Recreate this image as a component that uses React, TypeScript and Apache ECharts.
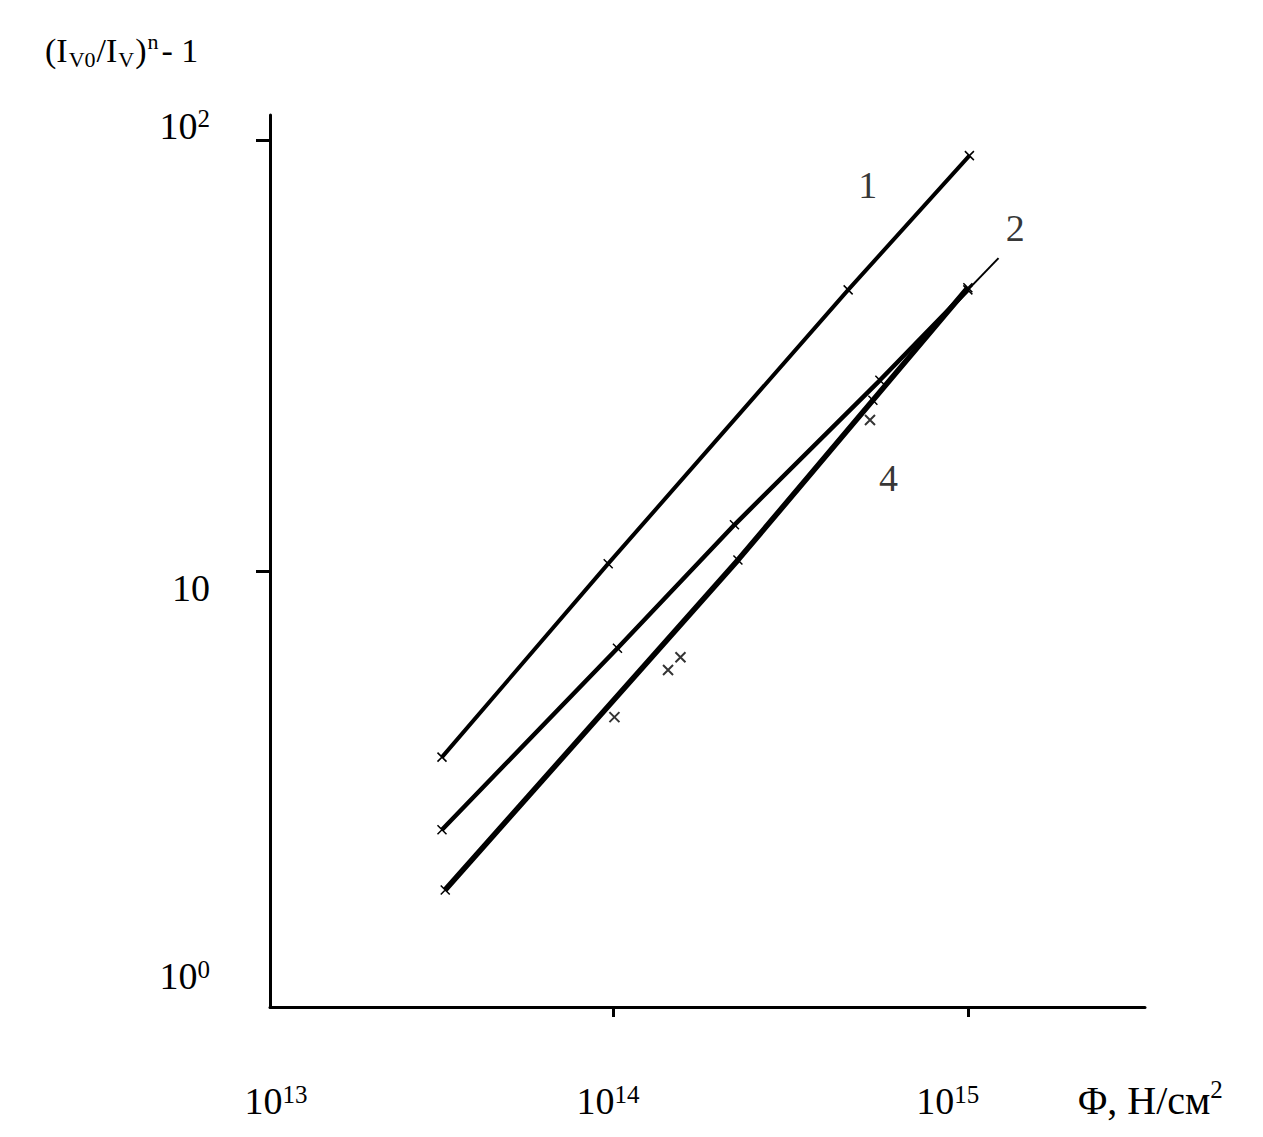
import React, { useEffect, useRef } from "react";
import * as echarts from "echarts";

// ---- data ----
const xTickValues = [1e14, 1e15];
const yTickValues = [10, 100];
const yLabelValues = [1, 10, 100];

const line1X = [3.3e13, 9.7e13, 4.6e14, 1.01e15];
const line1Y = [3.7, 10.4, 44.9, 92];

const line2X = [3.3e13, 1.03e14, 2.2e14, 5.65e14, 1.0e15];
const line2Y = [2.51, 6.62, 12.8, 27.7, 44.9];
const line2ExtX = [1.0e15, 1.22e15];
const line2ExtY = [44.9, 53.2];

const line4X = [3.37e13, 2.25e14, 5.4e14, 1.0e15];
const line4Y = [1.82, 10.6, 24.9, 45.4];

const markX = [1.01e14, 1.43e14, 1.55e14, 5.3e14];
const markY = [4.58, 5.89, 6.31, 22.4];

const curveNames = ["1", "2", "4"];
const curveLabelX = [5.22e14, 1.36e15, 5.98e14];
const curveLabelY = [78.7, 62.5, 16.4];

// axis extents (log10)
const X_MIN = Math.pow(10, 13.034);
const X_MAX = Math.pow(10, 15.499);
const Y_MIN = Math.pow(10, -0.0116);
const Y_MAX = Math.pow(10, 2.058);

const FONT = "'Liberation Serif', 'Times New Roman', serif";
const CROSS = "path://M0,0L10,10M10,0L0,10";

const pairs = (xs: number[], ys: number[]) => xs.map((x, i) => [x, ys[i]]);

export default function App() {
  const ref = useRef<HTMLDivElement>(null);

  useEffect(() => {
    if (!ref.current) return;
    const chart = echarts.init(ref.current, undefined, { renderer: "svg" });

    const big = { fontSize: 38, fontFamily: FONT, color: "#000", lineHeight: 44 };
    const sup = { fontSize: 25, fontFamily: FONT, color: "#000", lineHeight: 28 };

    const lineCommon = {
      type: "line",
      symbol: CROSS,
      symbolSize: 9,
      itemStyle: { color: "#000", borderColor: "#000", borderWidth: 1.5 },
      silent: true,
    };

    chart.setOption({
      animation: false,
      backgroundColor: "#fff",
      grid: { left: 270, top: 115, right: 118, bottom: 130 },
      xAxis: {
        type: "log",
        logBase: 10,
        min: X_MIN,
        max: X_MAX,
        splitLine: { show: false },
        axisLine: { show: true, lineStyle: { color: "#000", width: 3 } },
        axisTick: {
          show: true,
          inside: false,
          length: 10,
          customValues: xTickValues,
          lineStyle: { color: "#000", width: 3 },
        },
        axisLabel: {
          customValues: [X_MIN, 1e14, 1e15],
          margin: 72,
          formatter: (v: number) => {
            const e = Math.round(Math.log10(v));
            if (e === 13) return "{l13|10}{s13|13}";
            if (e === 14) return "{m|10}{s14|14}";
            return "{m|10}{s15|15}";
          },
          rich: {
            l13: { ...big, padding: [0, 0, 0, 12] },
            m: { ...big },
            s13: { ...sup, padding: [0, 0, 14, 0] },
            s14: { ...sup, padding: [0, 10, 14, 0] },
            s15: { ...sup, padding: [0, 40, 14, 0] },
          },
        },
      },
      yAxis: {
        type: "log",
        logBase: 10,
        min: Y_MIN,
        max: Y_MAX,
        splitLine: { show: false },
        axisLine: { show: true, lineStyle: { color: "#000", width: 3 } },
        axisTick: {
          show: true,
          inside: false,
          length: 14,
          customValues: yTickValues,
          lineStyle: { color: "#000", width: 3 },
        },
        axisLabel: {
          customValues: yLabelValues,
          margin: 60,
          formatter: (v: number) => {
            const e = Math.round(Math.log10(v));
            if (e === 2) return "{a|10}{as|2}";
            if (e === 1) return "{c|10}";
            return "{z|10}{zs|0}";
          },
          rich: {
            a: { ...big, padding: [0, 0, 28, 0] },
            as: { ...sup, padding: [0, 0, 42, 0] },
            c: { ...big, padding: [34, 0, 0, 0] },
            z: { ...big, padding: [0, 0, 52, 0] },
            zs: { ...sup, padding: [0, 0, 66, 0] },
          },
        },
      },
      graphic: [
        {
          type: "text",
          left: 45,
          top: 30,
          style: {
            text: "{b|(I}{sub|V0}{b|/I}{sub|V}{b|)}{sp|n}{b|- 1}",
            rich: {
              b: { fontSize: 34, fontFamily: FONT, color: "#000", lineHeight: 40 },
              sub: { fontSize: 22, fontFamily: FONT, color: "#000", lineHeight: 26, verticalAlign: "bottom", padding: [0, 1, 0, 1] },
              sp: { fontSize: 22, fontFamily: FONT, color: "#000", lineHeight: 26, verticalAlign: "top", padding: [0, 3, 0, 1] },
            },
          },
        },
        {
          type: "text",
          left: 1078,
          top: 1077,
          style: {
            text: "{b|Φ, Н/см}{sp|2}",
            rich: {
              b: { fontSize: 40, fontFamily: FONT, color: "#000", lineHeight: 46 },
              sp: { fontSize: 25, fontFamily: FONT, color: "#000", lineHeight: 28, verticalAlign: "top" },
            },
          },
        },
      ],
      series: [
        {
          ...lineCommon,
          name: "1",
          data: pairs(line1X, line1Y),
          lineStyle: { color: "#000", width: 4 },
        },
        {
          ...lineCommon,
          name: "2",
          data: pairs(line2X, line2Y),
          lineStyle: { color: "#000", width: 4.5 },
        },
        {
          type: "line",
          name: "2ext",
          symbol: "none",
          data: pairs(line2ExtX, line2ExtY),
          lineStyle: { color: "#000", width: 2 },
          silent: true,
        },
        {
          ...lineCommon,
          name: "4",
          data: pairs(line4X, line4Y),
          lineStyle: { color: "#000", width: 5.5 },
        },
        {
          type: "scatter",
          name: "marks",
          symbol: CROSS,
          symbolSize: 10,
          itemStyle: { color: "#000", borderColor: "#000", borderWidth: 2 },
          data: pairs(markX, markY),
          silent: true,
        },
        {
          type: "scatter",
          name: "labels",
          symbolSize: 1,
          itemStyle: { color: "transparent" },
          label: {
            show: true,
            position: "inside",
            formatter: "{b}",
            fontSize: 38,
            fontFamily: FONT,
            color: "#000",
          },
          data: curveNames.map((n, i) => ({ name: n, value: [curveLabelX[i], curveLabelY[i]] })),
          silent: true,
        },
      ],
    });

    return () => chart.dispose();
  }, []);

  return (
    <div
      ref={ref}
      style={{ position: "fixed", left: 0, top: 0, width: 1263, height: 1137, background: "#fff" }}
    />
  );
}
